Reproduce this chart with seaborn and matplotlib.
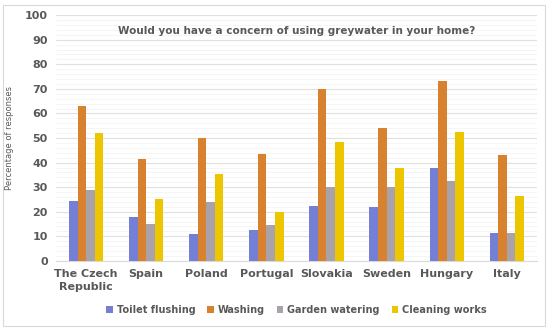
import pandas as pd
import seaborn as sns
import matplotlib.pyplot as plt
from matplotlib.ticker import MultipleLocator

# data
countries = ["The Czech\nRepublic", "Spain", "Poland", "Portugal",
             "Slovakia", "Sweden", "Hungary", "Italy"]
uses = ["Toilet flushing", "Washing", "Garden watering", "Cleaning works"]

toilet_flushing = [24.5, 18, 11, 12.5, 22.5, 22, 38, 11.5]
washing = [63, 41.5, 50, 43.5, 70, 54, 73, 43]
garden_watering = [29, 15, 24, 14.5, 30, 30, 32.5, 11.5]
cleaning_works = [52, 25, 35.5, 20, 48.5, 38, 52.5, 26.5]

rows = []
for use, vals in zip(uses, [toilet_flushing, washing, garden_watering, cleaning_works]):
    for c, v in zip(countries, vals):
        rows.append({"Country": c, "Use": use, "Percent": v})
df = pd.DataFrame(rows)

palette = ["#7480d6", "#d8812e", "#a9a2aa", "#eec600"]

sns.set_style("white")
fig = plt.figure(figsize=(5.5, 3.29), dpi=100)
ax = fig.add_axes([0.102, 0.207, 0.874, 0.747])

sns.barplot(data=df, x="Country", y="Percent", hue="Use", hue_order=uses,
            order=countries, palette=palette, width=0.57, saturation=1,
            linewidth=0, gap=0, ax=ax, zorder=3)

ax.set_ylim(0, 100)
ax.set_xlim(-0.5, len(countries) - 0.5)
ax.yaxis.set_major_locator(MultipleLocator(10))
ax.yaxis.set_minor_locator(MultipleLocator(2))
ax.grid(axis="y", which="major", color="#e0e0e0", linewidth=0.8, zorder=0)
ax.grid(axis="y", which="minor", color="#f2f2f2", linewidth=0.5, zorder=0)
ax.set_axisbelow(True)

for s in ["top", "right", "left"]:
    ax.spines[s].set_visible(False)
ax.spines["bottom"].set_color("#d9d9d9")
ax.tick_params(axis="both", which="both", length=0, labelsize=8, labelcolor="#595959", pad=6)
for lab in ax.get_xticklabels() + ax.get_yticklabels():
    lab.set_fontweight("bold")
    lab.set_linespacing(1.4)

ax.set_xlabel("")
ax.set_ylabel("Percentage of responses", fontsize=6, color="#595959", labelpad=8)

ax.text(0.5, 0.935, "Would you have a concern of using greywater in your home?",
        transform=ax.transAxes, ha="center", va="center",
        fontsize=7.5, fontweight="bold", color="#595959")

ax.legend(loc="center", bbox_to_anchor=(0.5, -0.2), ncol=4, frameon=False,
          handlelength=0.7, handleheight=0.7, handletextpad=0.4,
          columnspacing=1.2, labelcolor="#595959",
          prop={"weight": "bold", "size": 7})

fig.patches.append(plt.Rectangle((0.005, 0.01), 0.985, 0.975, transform=fig.transFigure,
                                 fill=False, edgecolor="#d9d9d9", linewidth=0.8))

plt.savefig("out.png", dpi=100)
